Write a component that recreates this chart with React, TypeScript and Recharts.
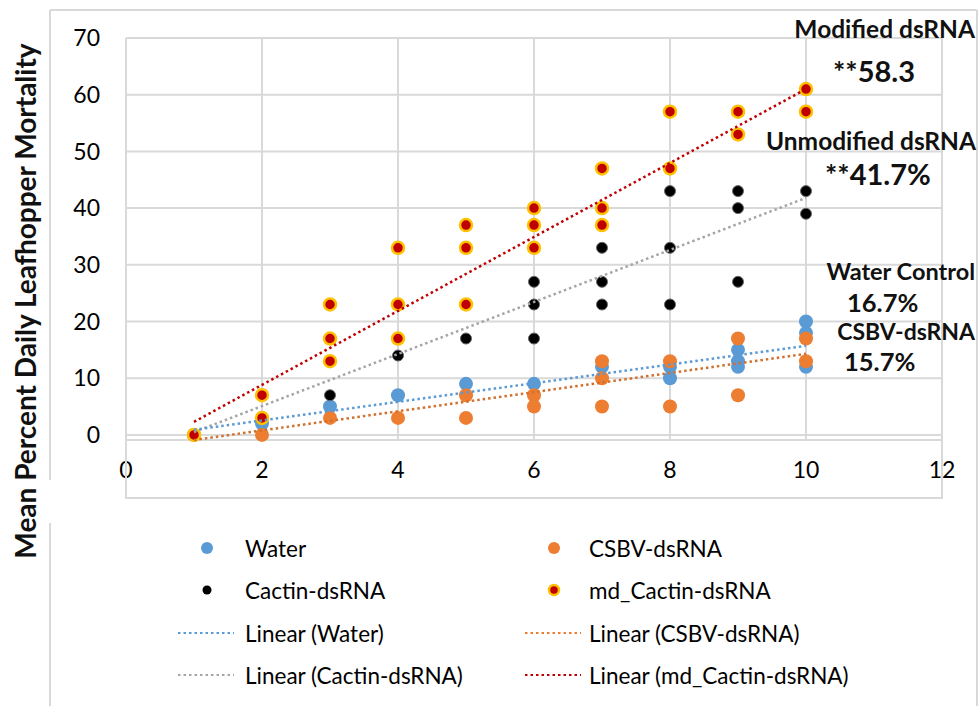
import { ScatterChart, Scatter, XAxis, YAxis, CartesianGrid } from "recharts";

// replicate observations per day (x = day, y = % mortality)
const waterDays = [1, 2, 3, 4, 5, 6, 7, 8, 8, 9, 9, 9, 10, 10, 10];
const waterValues = [0, 2, 5, 7, 9, 9, 12, 12, 10, 15, 13, 12, 20, 18, 12];

const csbvDays = [1, 2, 3, 4, 5, 5, 6, 6, 7, 7, 7, 8, 8, 9, 9, 10, 10];
const csbvValues = [0, 0, 3, 3, 7, 3, 7, 5, 13, 10, 5, 13, 5, 17, 7, 17, 13];

const cactinDays = [1, 2, 3, 4, 5, 6, 6, 6, 7, 7, 7, 8, 8, 8, 9, 9, 9, 10, 10];
const cactinValues = [0, 3, 7, 14, 17, 27, 23, 17, 33, 27, 23, 43, 33, 23, 43, 40, 27, 43, 39];

const mdDays = [1, 2, 2, 3, 3, 3, 4, 4, 4, 5, 5, 5, 6, 6, 6, 7, 7, 7, 8, 8, 9, 9, 10, 10];
const mdValues = [0, 7, 3, 23, 17, 13, 33, 23, 17, 37, 33, 23, 40, 37, 33, 47, 40, 37, 57, 47, 57, 53, 61, 57];

// linear trendline ends at day 1 and day 10
const trendDays = [1, 10];
const waterTrend = [0.9, 15.7];
const csbvTrend = [-0.9, 14.3];
const cactinTrend = [0.5, 41.8];
const mdTrend = [2.3, 61];

const xTicks = [0, 2, 4, 6, 8, 10, 12];
const yTicks = [0, 10, 20, 30, 40, 50, 60, 70];

const yTitle = "Mean Percent Daily Leafhopper Mortality";

const BLUE = "#5B9BD5";
const ORANGE = "#ED7D31";
const GREY = "#A5A5A5";
const RED = "#C00000";
const GOLD = "#FFC000";
const GRID = "#d9d9d9";
const FONT = "Lato, 'Liberation Sans', sans-serif";

const toPoints = (xs: number[], ys: number[]) => xs.map((x, i) => ({ x, y: ys[i] }));

const waterData = toPoints(waterDays, waterValues);
const csbvData = toPoints(csbvDays, csbvValues);
const cactinData = toPoints(cactinDays, cactinValues);
const mdData = toPoints(mdDays, mdValues);

const trendStyle = (stroke: string) => ({
  stroke,
  strokeWidth: 2.5,
  strokeDasharray: "2.5 3",
});

const blueDot = (p: any) => <circle cx={p.cx} cy={p.cy} r={7} fill={BLUE} />;
const orangeDot = (p: any) => <circle cx={p.cx} cy={p.cy} r={7} fill={ORANGE} />;
const blackDot = (p: any) => (
  <circle cx={p.cx} cy={p.cy} r={5.5} fill="#000" stroke="#666" strokeWidth={1} />
);
const mdDot = (p: any) => (
  <circle cx={p.cx} cy={p.cy} r={6} fill={RED} stroke={GOLD} strokeWidth={2.5} />
);
const noDot = () => <g />;

const legendItems = [
  { label: "Water", kind: "dot", color: BLUE, col: 0, row: 0 },
  { label: "CSBV-dsRNA", kind: "dot", color: ORANGE, col: 1, row: 0 },
  { label: "Cactin-dsRNA", kind: "black", color: "#000", col: 0, row: 1 },
  { label: "md_Cactin-dsRNA", kind: "md", color: RED, col: 1, row: 1 },
  { label: "Linear (Water)", kind: "line", color: BLUE, col: 0, row: 2 },
  { label: "Linear (CSBV-dsRNA)", kind: "line", color: ORANGE, col: 1, row: 2 },
  { label: "Linear (Cactin-dsRNA)", kind: "line", color: GREY, col: 0, row: 3 },
  { label: "Linear (md_Cactin-dsRNA)", kind: "line", color: RED, col: 1, row: 3 },
];

const notes = [
  { text: "Modified dsRNA", x: 975, y: 28, size: 24.5, anchor: "end" },
  { text: "**58.3", x: 833, y: 70, size: 29, anchor: "start" },
  { text: "Unmodified dsRNA", x: 976, y: 140, size: 24.5, anchor: "end" },
  { text: "**41.7%", x: 825, y: 173, size: 29, anchor: "start" },
  { text: "Water Control", x: 975, y: 271, size: 23.5, anchor: "end" },
  { text: "16.7%", x: 847, y: 302, size: 25.5, anchor: "start" },
  { text: "CSBV-dsRNA", x: 975, y: 331, size: 23, anchor: "end" },
  { text: "15.7%", x: 844, y: 361, size: 25.5, anchor: "start" },
];

function LegendBlock() {
  const colMarker = [207, 554];
  const colText = [245, 589];
  const rowY = [548, 590, 633, 675];
  return (
    <g>
      {legendItems.map((it) => {
        const cx = colMarker[it.col];
        const cy = rowY[it.row];
        let marker;
        if (it.kind === "dot") marker = <circle cx={cx} cy={cy} r={6} fill={it.color} />;
        else if (it.kind === "black") marker = <circle cx={cx} cy={cy} r={4.5} fill="#000" />;
        else if (it.kind === "md")
          marker = <circle cx={cx} cy={cy} r={5} fill={RED} stroke={GOLD} strokeWidth={2.5} />;
        else
          marker = (
            <line x1={cx - 29} x2={cx + 27} y1={cy} y2={cy} {...trendStyle(it.color)} strokeWidth={2} />
          );
        return (
          <g key={it.label}>
            {marker}
            <text
              x={colText[it.col]}
              y={cy}
              dominantBaseline="central"
              fontSize={22.5}
              fill="#000"
              fontFamily={FONT}
            >
              {it.label}
            </text>
          </g>
        );
      })}
    </g>
  );
}

export default function App() {
  return (
    <div
      style={{
        position: "absolute",
        left: 0,
        top: 0,
        width: 980,
        height: 706,
        background: "#fff",
        fontFamily: FONT,
      }}
    >
      <ScatterChart width={980} height={706} margin={{ top: 38, right: 38, bottom: 208, left: 0 }}>
        <CartesianGrid stroke={GRID} strokeWidth={2} />
        <XAxis
          type="number"
          dataKey="x"
          domain={[0, 12]}
          ticks={xTicks}
          height={58}
          tickLine={false}
          axisLine={false}
          tickMargin={16}
          tick={{ fontSize: 23, fill: "#000", fontFamily: FONT }}
        />
        <YAxis
          type="number"
          dataKey="y"
          domain={[0, 70]}
          ticks={yTicks}
          width={126}
          tickLine={false}
          axisLine={false}
          tickMargin={20}
          tick={{ fontSize: 23, fill: "#000", fontFamily: FONT }}
        />
        <Scatter data={waterData} shape={blueDot} isAnimationActive={false} />
        <Scatter data={csbvData} shape={orangeDot} isAnimationActive={false} />
        <Scatter data={cactinData} shape={blackDot} isAnimationActive={false} />
        <Scatter data={mdData} shape={mdDot} isAnimationActive={false} />
        <Scatter
          data={toPoints(trendDays, cactinTrend)}
          shape={noDot}
          line={trendStyle(GREY)}
          isAnimationActive={false}
        />
        <Scatter
          data={toPoints(trendDays, waterTrend)}
          shape={noDot}
          line={trendStyle(BLUE)}
          isAnimationActive={false}
        />
        <Scatter
          data={toPoints(trendDays, csbvTrend)}
          shape={noDot}
          line={trendStyle("#D0702C")}
          isAnimationActive={false}
        />
        <Scatter
          data={toPoints(trendDays, mdTrend)}
          shape={noDot}
          line={trendStyle(RED)}
          isAnimationActive={false}
        />
      </ScatterChart>

      {/* frame, axis title, notes and legend */}
      <svg
        width={980}
        height={706}
        style={{ position: "absolute", left: 0, top: 0, pointerEvents: "none" }}
      >
        <g stroke={GRID} strokeWidth={2} fill="none">
          <line x1={50} y1={10} x2={977} y2={10} />
          <line x1={977} y1={10} x2={977} y2={706} />
          <line x1={50} y1={10} x2={50} y2={480} />
          <line x1={50} y1={523} x2={50} y2={706} />
          <polyline points="126,440 126,498 942,498 942,440" />
        </g>
        <text
          transform="translate(25,301) rotate(-90)"
          textAnchor="middle"
          dominantBaseline="central"
          fontSize={28}
          fontWeight="bold"
          fill="#111"
          fontFamily={FONT}
        >
          {yTitle}
        </text>
        {notes.map((n) => (
          <text
            key={n.text}
            x={n.x}
            y={n.y}
            textAnchor={n.anchor as any}
            dominantBaseline="central"
            fontSize={n.size}
            fontWeight="bold"
            fill="#111"
            fontFamily={FONT}
          >
            {n.text}
          </text>
        ))}
        <LegendBlock />
      </svg>
    </div>
  );
}
